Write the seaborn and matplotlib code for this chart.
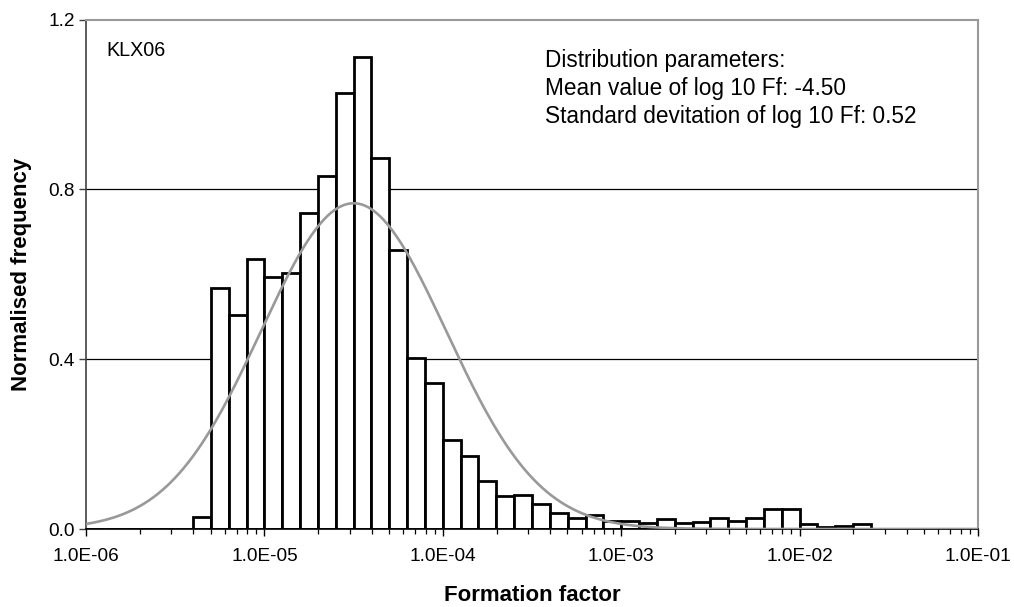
import numpy as np
import pandas as pd
import matplotlib
matplotlib.use("Agg")
import matplotlib.pyplot as plt
from matplotlib.ticker import FixedLocator, FuncFormatter, LogLocator, NullFormatter
import seaborn as sns

# ---- data (bins of 0.1 in log10 Ff, from -6.0 to -1.0) ----
bin_lo = -6.0
bin_hi = -1.0
n_bins = 50
# normalised frequency per bin of log10(Ff), -6.0 ... -1.0
heights = [
    0.000, 0.000, 0.000, 0.000, 0.000, 0.000, 0.029, 0.567, 0.504, 0.635,   # -6.0 .. -5.1
    0.594, 0.604, 0.745, 0.831, 1.026, 1.112, 0.873, 0.656, 0.403, 0.343,   # -5.0 .. -4.1
    0.210, 0.172, 0.113, 0.077, 0.080, 0.060, 0.038, 0.027, 0.034, 0.020,   # -4.0 .. -3.1
    0.020, 0.014, 0.023, 0.014, 0.017, 0.025, 0.020, 0.025, 0.047, 0.048,   # -3.0 .. -2.1
    0.011, 0.005, 0.008, 0.011, 0.000, 0.000, 0.000, 0.000, 0.000, 0.000,   # -2.0 .. -1.1
]
mean_log10 = -4.50
std_log10 = 0.52
x_tick_values = [1e-6, 1e-5, 1e-4, 1e-3, 1e-2, 1e-1]
y_tick_values = [0.0, 0.4, 0.8, 1.2]
label_text = "KLX06"
param_lines = ["Distribution parameters:",
               "Mean value of log 10 Ff: -4.50",
               "Standard devitation of log 10 Ff: 0.52"]

# ---- build frames ----
width = (bin_hi - bin_lo) / n_bins
centers_log = bin_lo + width * (np.arange(n_bins) + 0.5)
df_hist = pd.DataFrame({"ff": 10 ** centers_log, "h": heights})

grid_log = np.linspace(bin_lo, bin_hi, 400)
pdf = np.exp(-0.5 * ((grid_log - mean_log10) / std_log10) ** 2) / (std_log10 * np.sqrt(2 * np.pi))
df_curve = pd.DataFrame({"ff": 10 ** grid_log, "pdf": pdf})

sns.set_theme(style="white")
plt.rcParams["font.family"] = ["Liberation Sans", "DejaVu Sans"]
plt.rcParams["text.color"] = "black"
plt.rcParams["axes.labelcolor"] = "black"
plt.rcParams["xtick.color"] = "black"
plt.rcParams["ytick.color"] = "black"

fig = plt.figure(figsize=(10.14, 6.07), dpi=100)
ax = fig.add_axes([86 / 1014, 1 - 529 / 607, (978 - 86) / 1014, (529 - 19.5) / 607])

# gridlines
for yv in [0.4, 0.8]:
    ax.axhline(yv, color="black", lw=0.9, zorder=0)

sns.histplot(data=df_hist, x="ff", weights="h", bins=n_bins, binrange=(bin_lo, bin_hi),
             log_scale=True, stat="count", fill=True, color="white", alpha=1.0,
             edgecolor="black", linewidth=2.0, ax=ax, zorder=2)

sns.lineplot(data=df_curve, x="ff", y="pdf", color="#999999", lw=1.9, ax=ax, zorder=3)

ax.set_xscale("log")
ax.set_xlim(1e-6, 1e-1)
ax.set_ylim(0, 1.2)

ax.xaxis.set_major_locator(FixedLocator(x_tick_values))
ax.xaxis.set_major_formatter(FuncFormatter(lambda v, p: f"{v:.1E}"))
ax.xaxis.set_minor_locator(LogLocator(base=10, subs=np.arange(2, 10)))
ax.xaxis.set_minor_formatter(NullFormatter())
ax.yaxis.set_major_locator(FixedLocator(y_tick_values))
ax.yaxis.set_major_formatter(FuncFormatter(lambda v, p: f"{v:.1f}"))

ax.tick_params(axis="x", which="major", direction="out", length=5, width=1.0, color="black",
               labelsize=13.7, labelcolor="black", pad=9, bottom=True)
ax.tick_params(axis="x", which="minor", direction="out", length=3.5, width=0.9, color="black", bottom=True)
ax.tick_params(axis="y", which="major", direction="out", length=5, width=1.0, color="#404040",
               labelsize=13.7, labelcolor="black", pad=3, left=True)

for s in ["top", "right"]:
    ax.spines[s].set_color("#999999")
    ax.spines[s].set_linewidth(1.5)
ax.spines["left"].set_color("#404040")
ax.spines["left"].set_linewidth(1.2)
ax.spines["bottom"].set_color("black")
ax.spines["bottom"].set_linewidth(1.2)

ax.set_xlabel("Formation factor", fontsize=16, fontweight="bold", labelpad=14, color="black")
ax.set_ylabel("Normalised frequency", fontsize=16, fontweight="bold", labelpad=12, color="black")

ax.text(106 / 1014, 1 - 51 / 607, label_text, transform=fig.transFigure, fontsize=14.2,
        va="center", ha="left", color="black")
for i, line in enumerate(param_lines):
    ax.text(545 / 1014, 1 - (60 + 28.5 * i) / 607, line, transform=fig.transFigure,
            fontsize=16.3, va="center", ha="left", color="black")

fig.savefig("out.png", dpi=100)
